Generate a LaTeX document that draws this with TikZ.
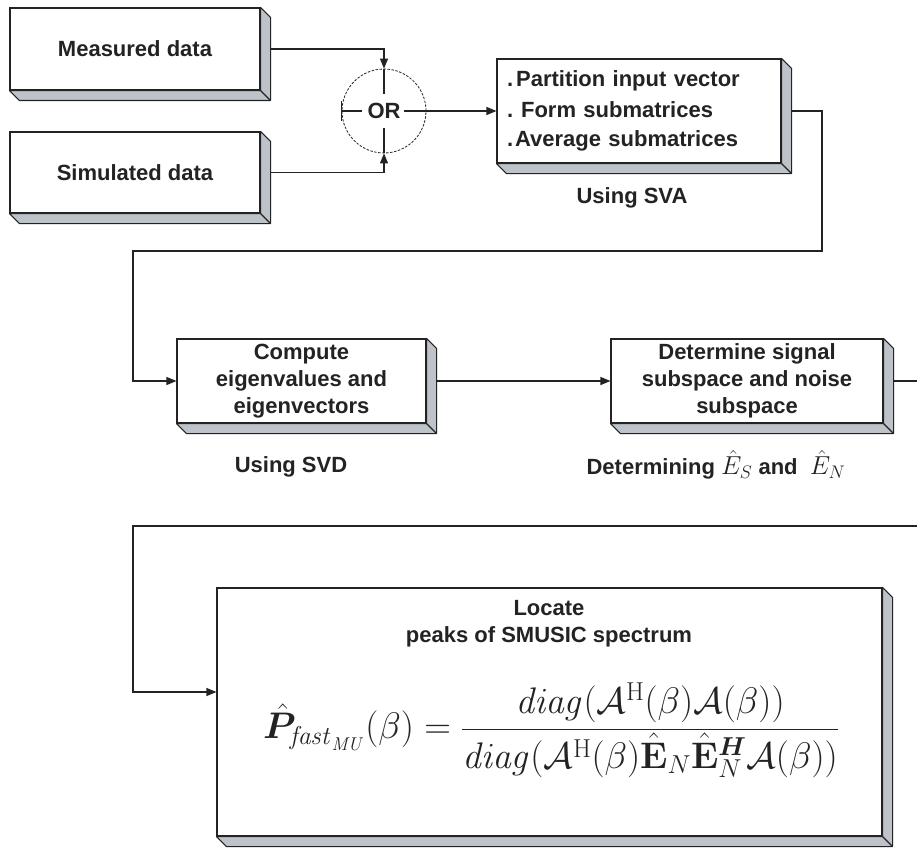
\RequirePackage{fix-cm}
\documentclass[tikz,border=0pt]{standalone}
\usepackage{amsmath}
\usepackage{bm}
\usepackage[no-math]{fontspec}
\setmainfont{Liberation Sans}
\usetikzlibrary{arrows.meta}

\definecolor{ink}{RGB}{35,35,35}
\definecolor{sidegray}{RGB}{190,195,202}

\newcommand{\sidedepth}{10}
% grey 3D side of a block
\newcommand{\extrude}[1]{%
  \filldraw[boxside] (#1.south west) -- ++(\sidedepth,\sidedepth)
    -- ([shift={(\sidedepth,\sidedepth)}]#1.south east)
    -- ([shift={(\sidedepth,\sidedepth)}]#1.north east)
    -- (#1.north east) -- (#1.south east) -- cycle;
  \draw[boxside] (#1.south east) -- ++(\sidedepth,\sidedepth);}
\newcommand{\bigmath}[1]{{\fontsize{26}{27}\selectfont$#1$}}

\tikzset{
  labeltext/.style={text=ink, font=\bfseries\fontsize{22}{27}\selectfont, align=center, inner sep=0pt},
  block/.style={labeltext, draw=ink, line width=1.1pt, fill=white},
  boxside/.style={fill=sidegray, draw=ink, line width=1.1pt, line join=round},
  wire/.style={draw=ink, line width=1.1pt},
  link/.style={wire, -{Triangle[length=10pt,width=8pt]}},
  orjoin/.style={labeltext, circle, draw=ink, line width=0.8pt, dash pattern=on 2.5pt off 1.5pt, minimum size=84pt}
}

\begin{document}
\begin{tikzpicture}[x=1pt, y=-1pt]
  % Frame
  \clip (0,0) rectangle (917,848);
  \fill[white] (0,0) rectangle (917,848);

  % Input blocks
  \node[block, minimum width=250pt, minimum height=82pt] (meas) at (135,49) {Measured data};
  \node[block, minimum width=250pt, minimum height=81pt] (simu) at (135,172.5) {Simulated data};

  % OR junction
  \node[orjoin] (join) at (384,111) {OR};
  \draw[wire] (join.north) -- ++(0,25);
  \draw[wire] (join.south) -- ++(0,-25);
  \draw[wire] (join.west) -- ++(20,0);
  \draw[wire] (join.east) -- ++(-22,0);
  \draw[wire] ([yshift=10pt]join.west) -- ([yshift=-10pt]join.west);

  % SVA block
  \node[block, minimum width=284pt, minimum height=104pt, text width=264pt, align=left] (sva) at (639,111)
    {.\kern3pt Partition input vector\\[4pt] .\kern8pt Form submatrices\\[2pt] .\kern2pt Average submatrices};
  \node[labeltext] (svanote) at (632,198) {Using SVA};

  % Eigen decomposition blocks
  \node[block, minimum width=249pt, minimum height=84pt] (comp) at (301.5,381) {Compute\\eigenvalues and\\eigenvectors};
  \node[labeltext] (svdnote) at (291,467) {Using SVD};
  \node[block, minimum width=272pt, minimum height=84pt] (det) at (747,381) {Determine signal\\subspace and noise\\subspace};
  \node[labeltext] (detnote) at (716,465) {Determining \bigmath{\hat{E}_S} and \ \bigmath{\hat{E}_N}};

  % Spectrum block
  \node[block, minimum width=665pt, minimum height=248pt] (spec) at (549.5,712) {};
  \node[labeltext] (spectitle) at (549,624) {Locate\\peaks of SMUSIC spectrum};
  \node[text=ink, inner sep=0pt, font=\fontsize{37}{44}\selectfont] (formula) at (551,730)
    {$\displaystyle \hat{\bm{P}}_{\mathit{fast}_{\mathit{MU}}}(\beta)=
      \frac{\mathit{diag}(\mathcal{A}^{\mathrm{H}}(\beta)\mathcal{A}(\beta))}
           {\mathit{diag}(\mathcal{A}^{\mathrm{H}}(\beta)\hat{\mathbf{E}}_N\hat{\mathbf{E}}_N^{\bm{H}}\mathcal{A}(\beta))}$};

  % 3D sides
  \foreach \b in {meas,simu,sva,comp,det,spec} {\extrude{\b}}

  % Connectors
  \coordinate (turnA) at (822,251);
  \coordinate (turnB) at (133,251);
  \coordinate (turnC) at (935,526);
  \coordinate (turnD) at (133,526);
  \draw[link] ([xshift=10pt]meas.east) -| (join.north);
  \draw[link] ([xshift=10pt]simu.east) -| (join.south);
  \draw[link] (join.east) -- (sva.west);
  \draw[link] ([xshift=10pt]sva.east) -| (turnA) -- (turnB) |- (comp.west);
  \draw[link] ([xshift=10pt]comp.east) -- (det.west);
  \draw[link] ([xshift=10pt]det.east) -| (turnC) -- (turnD) |- ([yshift=20pt]spec.west);
\end{tikzpicture}
\end{document}
